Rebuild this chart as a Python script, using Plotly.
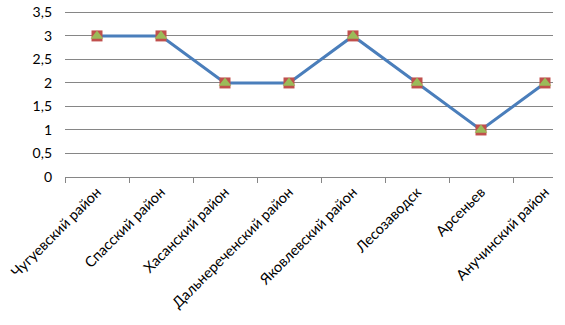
import plotly.graph_objects as go

categories = ["Чугуевский район", "Спасский район", "Хасанский район", "Дальнереченский район",
              "Яковлевский район", "Лесозаводск", "Арсеньев", "Анучинский район"]
values = [3, 3, 2, 2, 3, 2, 1, 2]
y_ticks = [0, 0.5, 1, 1.5, 2, 2.5, 3, 3.5]
y_tick_labels = ["0", "0,5", "1", "1,5", "2", "2,5", "3", "3,5"]

fig = go.Figure()
fig.add_trace(go.Scatter(
    x=categories, y=values, mode="lines+markers",
    line=dict(color="#4A7EBB", width=3),
    marker=dict(symbol="square", size=11, color="#C0504D", line=dict(width=0)),
    showlegend=False, hoverinfo="skip"))
fig.add_trace(go.Scatter(
    x=categories, y=values, mode="markers",
    marker=dict(symbol="triangle-up", size=11, color="#9BBB59", line=dict(width=0)),
    showlegend=False))

font = "Lato, 'Open Sans', sans-serif"
fig.update_layout(
    width=565, height=325,
    margin=dict(l=65, r=12, t=11, b=148),
    paper_bgcolor="white", plot_bgcolor="white",
    font=dict(family=font, size=13, color="black"),
    xaxis=dict(type="category", range=[-0.5, 7.125], showgrid=False, automargin=False,
               showline=True, linecolor="#868686", linewidth=1,
               ticks="outside", tickson="boundaries", ticklen=5, tickcolor="#868686",
               tickangle=-45, tickfont=dict(family=font, size=14.5)),
    yaxis=dict(range=[0, 3.53], tickvals=y_ticks, ticktext=y_tick_labels, automargin=False,
               showgrid=True, gridcolor="#868686", gridwidth=1,
               zeroline=False, showline=False, ticks="", ticklabelstandoff=12,
               tickfont=dict(family=font, size=14)),
)
fig.write_html("out.html")
